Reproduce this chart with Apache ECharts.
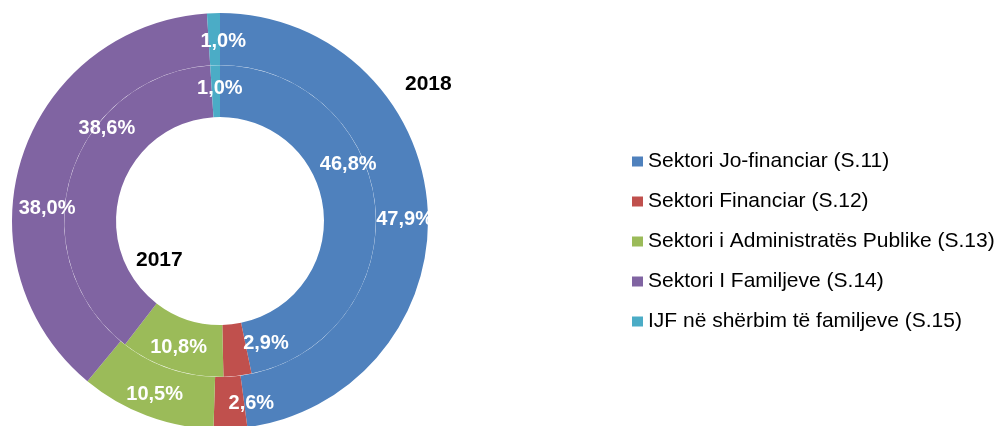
<!DOCTYPE html>
<html>
<head>
<meta charset="utf-8">
<script src="https://cdn.jsdelivr.net/npm/echarts@6/dist/echarts.min.js"></script>
<style>
html,body{margin:0;padding:0;background:#fff;}
#chart{width:1000px;height:426px;}
</style>
</head>
<body>
<div id="chart"></div>
<script>
var sectors = ['Sektori Jo-financiar (S.11)', 'Sektori Financiar (S.12)', 'Sektori i Administratës Publike (S.13)', 'Sektori I Familjeve (S.14)', 'IJF në shërbim të familjeve (S.15)'];
var colors = ['#4F81BD', '#C0504D', '#9BBB59', '#8064A2', '#4BACC6'];
var values2017 = [46.8, 2.9, 10.8, 38.6, 1.0];
var values2018 = [47.9, 2.6, 10.5, 38.0, 1.0];

// label nudges (px) so the labels sit where the original put them
var nudges = [
	[[-4, -43], [31, -10], [0, 0], [14, -54], [4, 0]],   // 2017 ring
	[[0, 11], [22, -2], [0, 0], [3, 45], [9, 5]]         // 2018 ring
];

function toData(vals){
	var out = [];
	for(var i = 0; i < vals.length; i++)
		out.push({name: sectors[i], value: vals[i]});
	return out;
}

var labelStyle = {
	show: true,
	position: 'inside',
	color: '#fff',
	fontFamily: 'Arial, Liberation Sans',
	fontWeight: 'bold',
	fontSize: 20,
	formatter: function(p){
		return p.value.toFixed(1).replace('.', ',') + '%';
	}
};
function labelLayout(p){
	var n = nudges[p.seriesIndex][p.dataIndex];
	return {dx: n[0], dy: n[1], hideOverlap: false};
}
var yearStyle = {fontFamily: 'Arial, Liberation Sans', fontWeight: 'bold', fontSize: 21, color: '#000'};

var chart = echarts.init(document.getElementById('chart'));
var option = {
	color: colors,
	animation: false,
	title: [
		{text: '2018', left: 400, top: 69, textStyle: yearStyle},
		{text: '2017', left: 131, top: 245, textStyle: yearStyle}
	],
	legend: {
		orient: 'vertical',
		left: 627,
		top: 146,
		icon: 'rect',
		itemWidth: 11,
		itemHeight: 10,
		itemGap: 19,
		textStyle: {fontFamily: 'Arial, Liberation Sans', fontSize: 21, color: '#000', lineHeight: 21},
		data: sectors
	},
	series: [
		{
			name: '2017',
			type: 'pie',
			center: [220, 221],
			radius: [104, 155.8],
			startAngle: 90,
			clockwise: true,
			avoidLabelOverlap: false,
			label: labelStyle,
			labelLine: {show: false},
			labelLayout: labelLayout,
			itemStyle: {borderWidth: 0},
			emphasis: {disabled: true},
			data: toData(values2017)
		},
		{
			name: '2018',
			type: 'pie',
			center: [220, 221],
			radius: [156, 208],
			startAngle: 90,
			clockwise: true,
			avoidLabelOverlap: false,
			label: labelStyle,
			labelLine: {show: false},
			labelLayout: labelLayout,
			itemStyle: {borderWidth: 0},
			emphasis: {disabled: true},
			data: toData(values2018)
		}
	]
};
chart.setOption(option);
</script>
</body>
</html>
